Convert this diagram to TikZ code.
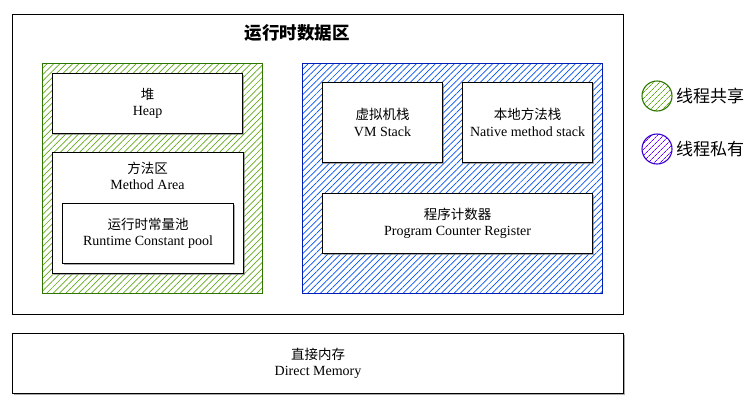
\documentclass[tikz,border=0pt]{standalone}
\usepackage{fontspec}
\setmainfont{Liberation Serif}
\newfontfamily\cjk{Noto Sans CJK SC}
\usetikzlibrary{patterns.meta,shadows}
\definecolor{gfill}{HTML}{60A917}
\definecolor{gline}{HTML}{2D7600}
\definecolor{bfill}{HTML}{0050EF}
\definecolor{bline}{HTML}{001DBC}
\definecolor{pfill}{HTML}{6A00FF}
\definecolor{pline}{HTML}{3700CC}
\tikzset{
  txt/.style={align=center, inner sep=0pt, font=\fontsize{14}{16.5}\selectfont},
  wbox/.style={txt, draw=black, line width=1.1pt, fill=white,
    drop shadow={shadow xshift=1pt, shadow yshift=-1pt, fill=black!55, opacity=0.6}},
  region/.style={line width=1.1pt, inner sep=0pt},
}
\newcommand{\twol}[2]{{\cjk\fontsize{13.5}{16.5}\selectfont #1}\\{#2}}
\begin{document}
\begin{tikzpicture}[x=1pt,y=-1pt]
\useasboundingbox (0,0) rectangle (754,410);
% outer area
\node[draw=black, line width=1.1pt, minimum width=611pt, minimum height=300pt, anchor=north west, inner sep=0pt] (rt) at (12,14) {};
\node[font=\cjk\bfseries\fontsize{17.5}{20}\selectfont] (title) at (297,33) {运行时数据区};
% green region
\node[region, draw=gline, pattern={Lines[angle=45,distance=4.5pt,line width=0.7pt]}, pattern color=gfill,
  minimum width=220pt, minimum height=230pt, anchor=north west] (green) at (42,63) {};
% blue region
\node[region, draw=bline, pattern={Lines[angle=45,distance=4.5pt,line width=0.7pt]}, pattern color=bfill,
  minimum width=300pt, minimum height=230pt, anchor=north west] (blue) at (302,63) {};
% heap
\node[wbox, minimum width=190pt, minimum height=60pt, anchor=north west] (heap) at (52,73) {\twol{堆}{Heap}};
% method area
\node[wbox, minimum width=191pt, minimum height=121pt, anchor=north west] (ma) at (52,152) {};
\node[txt] (matext) at (147.5,176) {\twol{方法区}{Method Area}};
\node[wbox, minimum width=171pt, minimum height=60pt, anchor=north west] (rcp) at (62,203) {\twol{运行时常量池}{Runtime Constant pool}};
% VM stack
\node[wbox, minimum width=120pt, minimum height=80pt, anchor=north west] (vms) at (322,82) {\twol{虚拟机栈}{VM Stack}};
\node[wbox, minimum width=130pt, minimum height=80pt, anchor=north west] (nms) at (462,82) {\twol{本地方法栈}{Native method stack}};
\node[wbox, minimum width=270pt, minimum height=60pt, anchor=north west] (pc) at (322,193) {\twol{程序计数器}{Program Counter Register}};
% direct memory
\node[wbox, minimum width=611pt, minimum height=60pt, anchor=north west] (dm) at (12,333) {\twol{直接内存}{Direct Memory}};
% legend
\node[circle, draw=gline, line width=1.1pt, minimum size=30pt, inner sep=0pt,
  pattern={Lines[angle=45,distance=4pt,line width=0.7pt]}, pattern color=gfill] (lg) at (657,96) {};
\node[anchor=west, font=\cjk\fontsize{17}{19}\selectfont, inner sep=0pt] (lgt) at (676,96) {线程共享};
\node[circle, draw=pline, line width=1.1pt, minimum size=30pt, inner sep=0pt,
  pattern={Lines[angle=45,distance=4pt,line width=0.7pt]}, pattern color=pfill] (lp) at (657,149) {};
\node[anchor=west, font=\cjk\fontsize{17}{19}\selectfont, inner sep=0pt] (lpt) at (676,149) {线程私有};
\end{tikzpicture}
\end{document}
